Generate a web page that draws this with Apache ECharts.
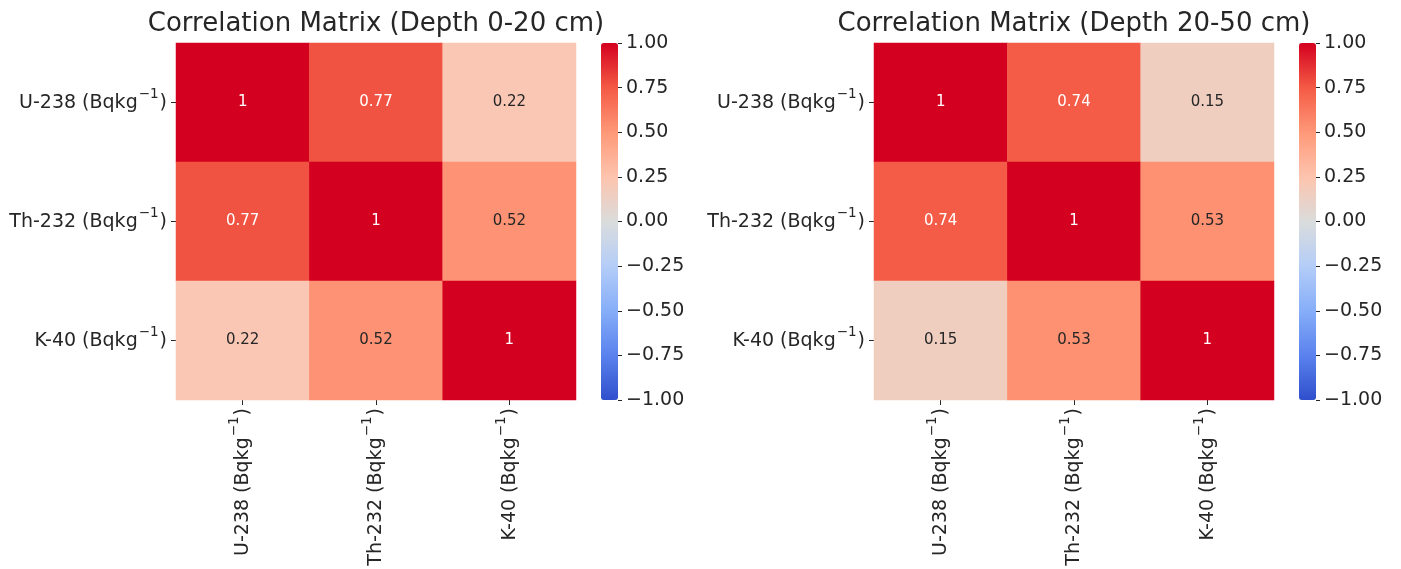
<!DOCTYPE html>
<html>
<head>
<meta charset="utf-8">
<script src="https://cdn.jsdelivr.net/npm/echarts@6/dist/echarts.min.js"></script>
<style>
  html, body { margin: 0; padding: 0; background: #fff; }
  #chart { width: 1401px; height: 569px; }
</style>
</head>
<body>
<div id="chart"></div>
<script>
  // isotopes on both axes, same order as the original matrices
  const categories = ['U-238', 'Th-232', 'K-40']
  const titles = ['Correlation Matrix (Depth 0-20 cm)', 'Correlation Matrix (Depth 20-50 cm)']
  // rows = y axis, columns = x axis
  const corrShallow = [
    [1, 0.77, 0.22],
    [0.77, 1, 0.52],
    [0.22, 0.52, 1]
  ]
  const corrDeep = [
    [1, 0.74, 0.15],
    [0.74, 1, 0.53],
    [0.15, 0.53, 1]
  ]
  // coolwarm-ish stops from -1 to 1 (step 0.25)
  const coolwarm = ['#2f4fcc', '#5a82ee', '#86aef8', '#b4cdf8', '#dadcdc', '#fdc4ae', '#fe9878', '#f45a45', '#d4001f']

  const font = 'DejaVu Sans'
  const textColor = '#262626'
  const gridLefts = [176, 874]
  const barLefts = [601, 1299]
  const barW = 17
  const plotTop = 43
  const plotH = 357
  const plotW = 400

  // "Name (Bqkg^-1)" with a raised superscript, kept centred on the tick
  const catLabel = {
    fontFamily: font,
    fontSize: 19,
    color: textColor,
    formatter: v => '{a|' + v + ' (Bqkg}{sup|−1}{a|)}',
    rich: {
      a: { fontFamily: font, fontSize: 19, color: textColor, verticalAlign: 'bottom', padding: [0, 0, 5.5, 0] },
      sup: { fontFamily: font, fontSize: 13.5, color: textColor, verticalAlign: 'top', padding: [0, 1, 16.5, 1] }
    }
  }

  function toCells(matrix) {
    const out = []
    matrix.forEach((row, y) => {
      row.forEach((v, x) => {
        out.push({
          value: [x, y, v],
          label: { color: v > 0.6 ? '#ffffff' : textColor }
        })
      })
    })
    return out
  }

  const grids = []
  const xAxes = []
  const yAxes = []
  const series = []
  const visualMaps = []

  ;[corrShallow, corrDeep].forEach((m, i) => {
    // heatmap grid
    grids.push({ left: gridLefts[i], top: plotTop, width: plotW, height: plotH })
    // colorbar axis grid
    grids.push({ left: barLefts[i], top: plotTop, width: barW, height: plotH })

    xAxes.push({
      type: 'category', gridIndex: i * 2, data: categories,
      axisLine: { show: false },
      axisTick: { show: true, alignWithLabel: true, length: 5, lineStyle: { color: textColor } },
      axisLabel: Object.assign({ rotate: 90, margin: 8, interval: 0 }, catLabel),
      splitLine: { show: false }
    })
    yAxes.push({
      type: 'category', gridIndex: i * 2, data: categories, inverse: true,
      axisLine: { show: false },
      axisTick: { show: true, alignWithLabel: true, length: 5, lineStyle: { color: textColor } },
      axisLabel: Object.assign({ margin: 9, interval: 0 }, catLabel),
      splitLine: { show: false }
    })

    xAxes.push({ type: 'value', gridIndex: i * 2 + 1, show: false, min: 0, max: 1 })
    yAxes.push({
      type: 'value', gridIndex: i * 2 + 1, position: 'right',
      min: -1, max: 1, interval: 0.25,
      axisLine: { show: false, onZero: false },
      axisTick: { show: true, length: 4, lineStyle: { color: textColor } },
      splitLine: { show: false },
      axisLabel: {
        fontFamily: font, fontSize: 19, color: textColor, margin: 8,
        formatter: v => (v < 0 ? '−' : '') + Math.abs(v).toFixed(2)
      }
    })

    series.push({
      type: 'heatmap',
      xAxisIndex: i * 2, yAxisIndex: i * 2,
      data: toCells(m),
      label: {
        show: true, fontFamily: font, fontSize: 15,
        formatter: p => String(p.value[2])
      },
      itemStyle: { borderWidth: 0 },
      emphasis: { disabled: true }
    })

    visualMaps.push({
      type: 'continuous',
      seriesIndex: i,
      min: -1, max: 1,
      calculable: false,
      hoverLink: false,
      orient: 'vertical',
      left: barLefts[i], top: plotTop,
      padding: 0,
      itemWidth: barW, itemHeight: plotH,
      text: null,
      showLabel: false,
      inRange: { color: coolwarm }
    })
  })

  const chart = echarts.init(document.getElementById('chart'))
  chart.setOption({
    backgroundColor: '#ffffff',
    animation: false,
    title: titles.map((t, i) => ({
      text: t,
      left: gridLefts[i] + plotW / 2,
      textAlign: 'center',
      top: 11,
      padding: 0,
      textStyle: { fontFamily: font, fontSize: 26, fontWeight: 'normal', color: textColor }
    })),
    grid: grids,
    xAxis: xAxes,
    yAxis: yAxes,
    visualMap: visualMaps,
    series: series
  })
</script>
</body>
</html>
